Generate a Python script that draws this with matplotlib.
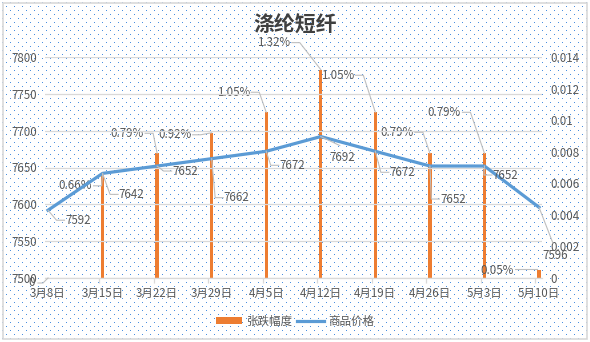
import numpy as np
import matplotlib
matplotlib.use("Agg")
import matplotlib.pyplot as plt
from matplotlib.lines import Line2D
from matplotlib.patches import Patch, Rectangle
from matplotlib.transforms import IdentityTransform

plt.rcParams['font.family'] = ['Noto Sans CJK SC', 'DejaVu Sans']

# ---------------- data ----------------
categories = ["3月8日", "3月15日", "3月22日", "3月29日", "4月5日",
              "4月12日", "4月19日", "4月26日", "5月3日", "5月10日"]
price = [7592, 7642, 7652, 7662, 7672, 7692, 7672, 7652, 7652, 7596]
change = [0.0, 0.0066, 0.0079, 0.0092, 0.0105, 0.0132, 0.0105, 0.0079, 0.0079, 0.0005]
change_labels = ["0", "0.66%", "0.79%", "0.92%", "1.05%", "1.32%",
                 "1.05%", "0.79%", "0.79%", "0.05%"]
left_ticks = [7500, 7550, 7600, 7650, 7700, 7750, 7800]
right_ticks = [0, 0.002, 0.004, 0.006, 0.008, 0.01, 0.012, 0.014]
right_tick_labels = ["0", "0.002", "0.004", "0.006", "0.008", "0.01", "0.012", "0.014"]
title = "涤纶短纤"
bar_name = "张跌幅度"
line_name = "商品价格"

# ---------------- style ----------------
W, H = 590, 342
BLUE = '#5B9BD5'
ORANGE = '#ED7D31'
TXT = '#595959'
GRID = '#D9D9D9'
LEAD = '#BFBFBF'
FS = 8.3

fig = plt.figure(figsize=(W / 100, H / 100), dpi=100)
fig.patch.set_facecolor('white')

# dotted background pattern
bg = np.ones((H, W, 3))
dot = np.array([0x4A, 0x8F, 0xE0]) / 255.0
for r, yy in enumerate(range(2, H, 4)):
    start = 2 if r % 2 == 0 else 6
    bg[yy, start::8] = dot
fig.figimage(bg, xo=0, yo=0, zorder=-10)

# chart border
fig.add_artist(Rectangle((3, 3), 584, 336, transform=IdentityTransform(),
                         fill=False, edgecolor=GRID, linewidth=1.2))

# axes area in pixels (image coords): x 45..542, y 57..278
L, R, T, B = 45, 542, 57, 278
ax = fig.add_axes([L / W, (H - B) / H, (R - L) / W, (B - T) / H])
ax2 = ax.twinx()
ax.set_zorder(ax2.get_zorder() + 1)
ax.patch.set_visible(False)
ax2.patch.set_visible(False)

x = np.arange(len(categories))

# bars (secondary/right axis)
ax2.bar(x, change, width=0.062, color=ORANGE, zorder=2)
ax2.set_ylim(0, 0.014)
ax2.set_yticks(right_ticks)
ax2.set_yticklabels(right_tick_labels)
ax2.tick_params(axis='y', length=0, pad=5.8, labelsize=FS, labelcolor=TXT)

# line (primary/left axis)
ax.plot(x, price, color=BLUE, linewidth=2.3, solid_joinstyle='round', zorder=3)
ax.set_ylim(7500, 7800)
ax.set_yticks(left_ticks)
ax.tick_params(axis='y', length=0, pad=5.8, labelsize=FS, labelcolor=TXT)
ax.grid(axis='y', color=GRID, linewidth=0.9)
ax.set_axisbelow(True)

xmin, xmax = -0.055, len(categories) - 1 + 0.055
ax.set_xlim(xmin, xmax)
ax.set_xticks(x)
ax.set_xticklabels(categories)
ax.tick_params(axis='x', length=0, pad=6.5, labelsize=FS, labelcolor=TXT)
ax.set_xticks(x[1:] - 0.065, minor=True)
ax.tick_params(axis='x', which='minor', length=3.5, color=GRID, width=0.9)

for a in (ax, ax2):
    for s in ('top', 'left', 'right'):
        a.spines[s].set_visible(False)
    a.spines['bottom'].set_visible(False)
ax.spines['bottom'].set_visible(True)
ax.spines['bottom'].set_color(GRID)
ax.spines['bottom'].set_linewidth(0.9)

# ---------------- data labels ----------------
def draw_leader(px, py, pts):
    xs = [px + p[0] for p in pts]
    ys = [py - p[1] for p in pts]
    fig.add_artist(Line2D(xs, ys, transform=IdentityTransform(),
                          color=LEAD, linewidth=0.8, zorder=5))

# price labels: text offsets (px, y down) and leader polylines
price_off = [(30, 10), (29, 21), (28, 5), (25, 39), (26, 14),
             (21, 21), (27, 21), (23, 33), (21, 9), (16, 48)]
for i, (v, (dx, dy)) in enumerate(zip(price, price_off)):
    px, py = ax.transData.transform((i, v))
    tl = dx - 11.5
    if i == 5:
        pts = [(0, 0), (19, 9)]
    elif i == 9:
        pts = [(0, 0), (14, 36)]
    else:
        pts = [(0, 0), (tl - 10, dy), (tl - 2, dy)]
    draw_leader(px, py, pts)
    ax.annotate(str(v), xy=(i, v), xytext=(dx, -dy), textcoords='offset pixels',
                ha='center', va='center', fontsize=FS, color=TXT, zorder=6,
                annotation_clip=False)

chg_off = [(-16, 5), (-27, 12), (-30, -20), (-37, 2), (-33, -20),
           (-47, -27), (-38, -37), (-33, -21), (-40, -41), (-42, 0)]
for i, (v, lab, (dx, dy)) in enumerate(zip(change, change_labels, chg_off)):
    px, py = ax2.transData.transform((i, v))
    tr = dx + 15
    if i == 0:
        pts = [(-10, 5), (-5, 5), (0, 0)]
    elif i == 9:
        pts = [(-24, -1), (-2, -1)]
    else:
        pts = [(tr + 3, dy), (tr + 11, dy), (0, 0)]
    draw_leader(px, py, pts)
    ax2.annotate(lab, xy=(i, v), xytext=(dx, -dy), textcoords='offset pixels',
                 ha='center', va='center', fontsize=FS, color=TXT, zorder=6,
                 annotation_clip=False)

# ---------------- title & legend ----------------
fig.text(0.5, 1 - 25 / H, title, ha='center', va='center', fontsize=15,
         fontweight='bold', color='#404040')

handles = [Patch(facecolor=ORANGE, edgecolor='none'),
           Line2D([0], [0], color=BLUE, linewidth=2.3)]
fig.legend(handles, [bar_name, line_name], loc='center',
           bbox_to_anchor=(0.5, (H - 321) / H), ncol=2, frameon=False,
           fontsize=FS, labelcolor=TXT, handlelength=2.3, handleheight=0.6,
           handletextpad=0.4, columnspacing=0.4, borderpad=0)

fig.savefig('out.png', dpi=100, facecolor=fig.get_facecolor())
